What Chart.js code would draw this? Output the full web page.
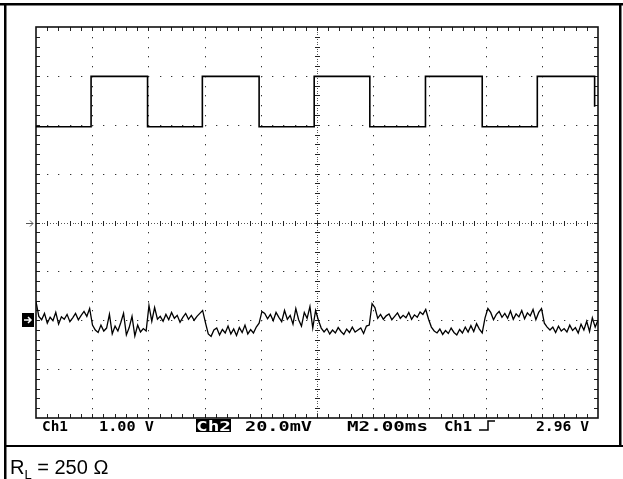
<!DOCTYPE html>
<html><head><meta charset="utf-8">
<script src="https://cdn.jsdelivr.net/npm/chart.js@4.4.0/dist/chart.umd.min.js"></script>
<style>html,body{margin:0;padding:0;background:#fff;overflow:hidden}canvas{display:block}</style>
</head><body>
<canvas id="c" width="623" height="479"></canvas>
<script>
// ---- data (screen divisions; time in ms) ----
const xDivisions = 10;
const yDivisions = 8;
const msPerDiv = 2.0;
const ch1EdgeTimes = [1.96, 3.97, 5.92, 7.94, 9.90, 11.88, 13.86, 15.88, 17.84, 19.88];
const ch1Levels = [1.96, 2.99];        // low, high (divisions above centre)
const ch1EndLevel = 2.37;              // trace stops part-way down the last edge
const ch1Marker = 0;                   // ch1 ground marker (divisions)
const ch2Marker = -2;                  // ch2 ground marker (divisions)
const ch2Trace = [
 -1.62,-1.92,-1.99,-1.86,-2.06,-1.94,-2.01,-1.84,-2.08,-1.93,-1.98,-1.88,-2.03,-1.95,-1.86,-1.99,-1.90,-1.82,-1.92,-1.76,
 -2.10,-2.20,-2.25,-2.10,-2.22,-2.16,-1.88,-2.28,-2.12,-2.22,-2.05,-1.86,-2.30,-2.15,-1.92,-2.32,-2.10,-2.24,-2.17,-2.22,
 -1.70,-2.02,-1.74,-1.98,-1.92,-2.02,-1.88,-1.99,-1.84,-1.96,-1.90,-2.04,-1.94,-1.86,-1.98,-1.90,-2.00,-1.92,-1.86,-1.80,
 -2.05,-2.28,-2.33,-2.20,-2.16,-2.30,-2.19,-2.26,-2.12,-2.28,-2.18,-2.31,-2.15,-2.25,-2.10,-2.28,-2.19,-2.26,-2.14,-2.06,
 -1.82,-1.86,-1.97,-1.88,-2.01,-1.84,-1.94,-2.03,-1.80,-1.98,-1.90,-2.08,-1.76,-1.99,-2.12,-1.84,-1.96,-1.72,-2.16,-1.80,
 -2.00,-2.16,-2.24,-2.17,-2.28,-2.20,-2.26,-2.15,-2.23,-2.29,-2.18,-2.25,-2.14,-2.24,-2.20,-2.16,-2.27,-2.12,-2.10,
 -1.66,-1.74,-1.96,-1.88,-1.98,-1.91,-1.87,-1.99,-1.92,-1.85,-1.96,-1.90,-1.95,-1.84,-1.98,-1.89,-1.94,-1.83,-1.88,-1.78,
 -1.98,-2.14,-2.22,-2.26,-2.18,-2.29,-2.21,-2.27,-2.16,-2.25,-2.30,-2.19,-2.26,-2.14,-2.24,-2.11,-2.23,-2.07,-2.18,-2.26,
 -1.95,-1.76,-1.84,-1.99,-1.88,-1.82,-1.94,-1.86,-1.96,-1.81,-1.98,-1.87,-1.93,-1.80,-1.97,-1.85,-1.91,-1.78,-1.99,-1.84,
 -1.76,-2.06,-2.14,-2.20,-2.14,-2.25,-2.12,-2.22,-2.17,-2.24,-2.10,-2.21,-2.15,-2.26,-2.08,-2.20,-2.02,-2.23,-1.95,-2.14,-2.00
];
const readoutTexts = ["Ch1", "1.00 V", "Ch2", "20.0mV", "M2.00ms", "Ch1", "2.96 V"];
const noteMain = "R";
const noteSub = "L";
const noteRest = " = 250 \u03A9";

// ---- build datasets from the arrays ----
const totalMs = xDivisions * msPerDiv;
const ch1Points = [{x: 0, y: ch1Levels[0]}];
let lvl = 0;
ch1EdgeTimes.forEach((t, i) => {
  ch1Points.push({x: t, y: ch1Levels[lvl]});
  lvl = 1 - lvl;
  const target = (i === ch1EdgeTimes.length - 1) ? ch1EndLevel : ch1Levels[lvl];
  ch1Points.push({x: t, y: target});
});
const ch2Points = ch2Trace.map((v, i) => ({x: i * totalMs / (ch2Trace.length - 1), y: v}));

// ---- layout (positions/styles) ----
const readoutBoxes = [[42, 68], [99, 154], [196, 231], [245, 312], [347, 428], [444, 472], [536, 589]];

const graticule = {
  id: 'graticule',
  beforeDatasetsDraw(chart) {
    const {ctx, chartArea: a, scales: {x, y}} = chart;
    const yMin = -yDivisions / 2;
    ctx.save();
    ctx.fillStyle = '#333';
    for (let i = 1; i < xDivisions; i++) {
      if (i === xDivisions / 2) continue;
      const px = Math.round(x.getPixelForValue(i * msPerDiv));
      for (let j = 1; j < yDivisions * 5; j++) {
        const py = Math.round(y.getPixelForValue(yMin + j * 0.2));
        ctx.fillRect(px, py, 1, 1.3);
      }
    }
    for (let k = 1; k < yDivisions; k++) {
      if (k === yDivisions / 2) continue;
      const py = Math.round(y.getPixelForValue(yMin + k));
      for (let j = 1; j < xDivisions * 5; j++) {
        const px = Math.round(x.getPixelForValue(j * msPerDiv / 5));
        ctx.fillRect(px, py, 1.3, 1);
      }
    }
    const cx = Math.round(x.getPixelForValue(totalMs / 2));
    const cy = Math.round(y.getPixelForValue(0));
    ctx.fillStyle = '#555';
    for (let j = 1; j < xDivisions * 20; j++) {
      const px = Math.round(x.getPixelForValue(j * msPerDiv / 20));
      ctx.fillRect(px, cy, 1, 1);
    }
    for (let j = 1; j < yDivisions * 20; j++) {
      const py = Math.round(y.getPixelForValue(yMin + j / 20));
      ctx.fillRect(cx, py, 1, 1);
    }
    ctx.fillStyle = '#222';
    for (let j = 1; j < xDivisions * 5; j++) {
      const px = Math.round(x.getPixelForValue(j * msPerDiv / 5));
      ctx.fillRect(px, cy - 2, 1, 5);
      ctx.fillRect(px, a.top, 1, 4);
      ctx.fillRect(px, a.bottom - 4, 1, 4);
    }
    for (let j = 1; j < yDivisions * 5; j++) {
      const py = Math.round(y.getPixelForValue(yMin + j * 0.2));
      ctx.fillRect(cx - 2, py, 5, 1);
      ctx.fillRect(a.left, py, 4, 1);
      ctx.fillRect(a.right - 4, py, 4, 1);
    }
    ctx.strokeStyle = '#111';
    ctx.lineWidth = 1.6;
    ctx.strokeRect(a.left, a.top, a.right - a.left, a.bottom - a.top);
    ctx.restore();
  },
  afterDraw(chart) {
    const {ctx, chartArea: a, scales: {y}} = chart;
    ctx.save();
    ctx.fillStyle = '#000';
    ctx.fillRect(0, 3, 623, 2.5);
    ctx.fillRect(4, 3, 2.5, 476);
    ctx.fillRect(619, 3, 2.5, 444);
    ctx.fillRect(4, 445, 619, 2);
    const m1 = Math.round(y.getPixelForValue(ch1Marker)) + 0.5;
    ctx.strokeStyle = '#555'; ctx.lineWidth = 1;
    ctx.beginPath(); ctx.moveTo(26, m1); ctx.lineTo(33, m1);
    ctx.moveTo(30, m1 - 3); ctx.lineTo(33, m1); ctx.lineTo(30, m1 + 3); ctx.stroke();
    const m2 = Math.round(y.getPixelForValue(ch2Marker));
    ctx.fillStyle = '#000'; ctx.fillRect(22, m2 - 7, 12, 14);
    ctx.strokeStyle = '#fff'; ctx.lineWidth = 1.5;
    ctx.beginPath(); ctx.moveTo(24, m2); ctx.lineTo(31, m2);
    ctx.moveTo(28, m2 - 3); ctx.lineTo(31, m2); ctx.lineTo(28, m2 + 3); ctx.stroke();
    const base = a.bottom + 13;
    ctx.font = 'bold 14px "DejaVu Sans Mono"';
    ctx.textBaseline = 'alphabetic';
    readoutTexts.forEach((t, i) => {
      const [x0, x1] = readoutBoxes[i];
      const w = ctx.measureText(t).width;
      if (i === 2) {
        ctx.fillStyle = '#000';
        ctx.fillRect(x0, a.bottom + 1, x1 - x0, 13);
        ctx.fillStyle = '#fff';
      } else {
        ctx.fillStyle = '#000';
      }
      ctx.save();
      ctx.translate(x0, base);
      ctx.scale((x1 - x0) / w, 1);
      ctx.fillText(t, 0, 0);
      ctx.restore();
    });
    ctx.strokeStyle = '#000'; ctx.lineWidth = 1.5;
    ctx.beginPath();
    ctx.moveTo(479, base - 1); ctx.lineTo(488, base - 1); ctx.lineTo(488, base - 10); ctx.lineTo(495, base - 10);
    ctx.stroke();
    ctx.fillStyle = '#000';
    ctx.font = '20px "Liberation Sans"';
    ctx.fillText(noteMain, 10, 474);
    let nx = 10 + ctx.measureText(noteMain).width;
    ctx.font = '13px "Liberation Sans"';
    ctx.fillText(noteSub, nx, 479);
    nx += ctx.measureText(noteSub).width;
    ctx.font = '20px "Liberation Sans"';
    ctx.fillText(noteRest, nx, 474);
    ctx.restore();
  }
};

new Chart(document.getElementById('c'), {
  type: 'scatter',
  data: {
    datasets: [
      {label: 'Ch1', data: ch1Points, showLine: true, borderColor: '#000', borderWidth: 1.6, pointRadius: 0, tension: 0},
      {label: 'Ch2', data: ch2Points, showLine: true, borderColor: '#000', borderWidth: 1.3, pointRadius: 0, tension: 0}
    ]
  },
  options: {
    responsive: false,
    animation: false,
    devicePixelRatio: 1,
    layout: {padding: {left: 36, right: 25, top: 27, bottom: 61}},
    plugins: {legend: {display: false}, tooltip: {enabled: false}},
    scales: {
      x: {type: 'linear', min: 0, max: totalMs, display: false},
      y: {type: 'linear', min: -yDivisions / 2, max: yDivisions / 2, display: false}
    }
  },
  plugins: [graticule]
});
</script>
</body></html>
